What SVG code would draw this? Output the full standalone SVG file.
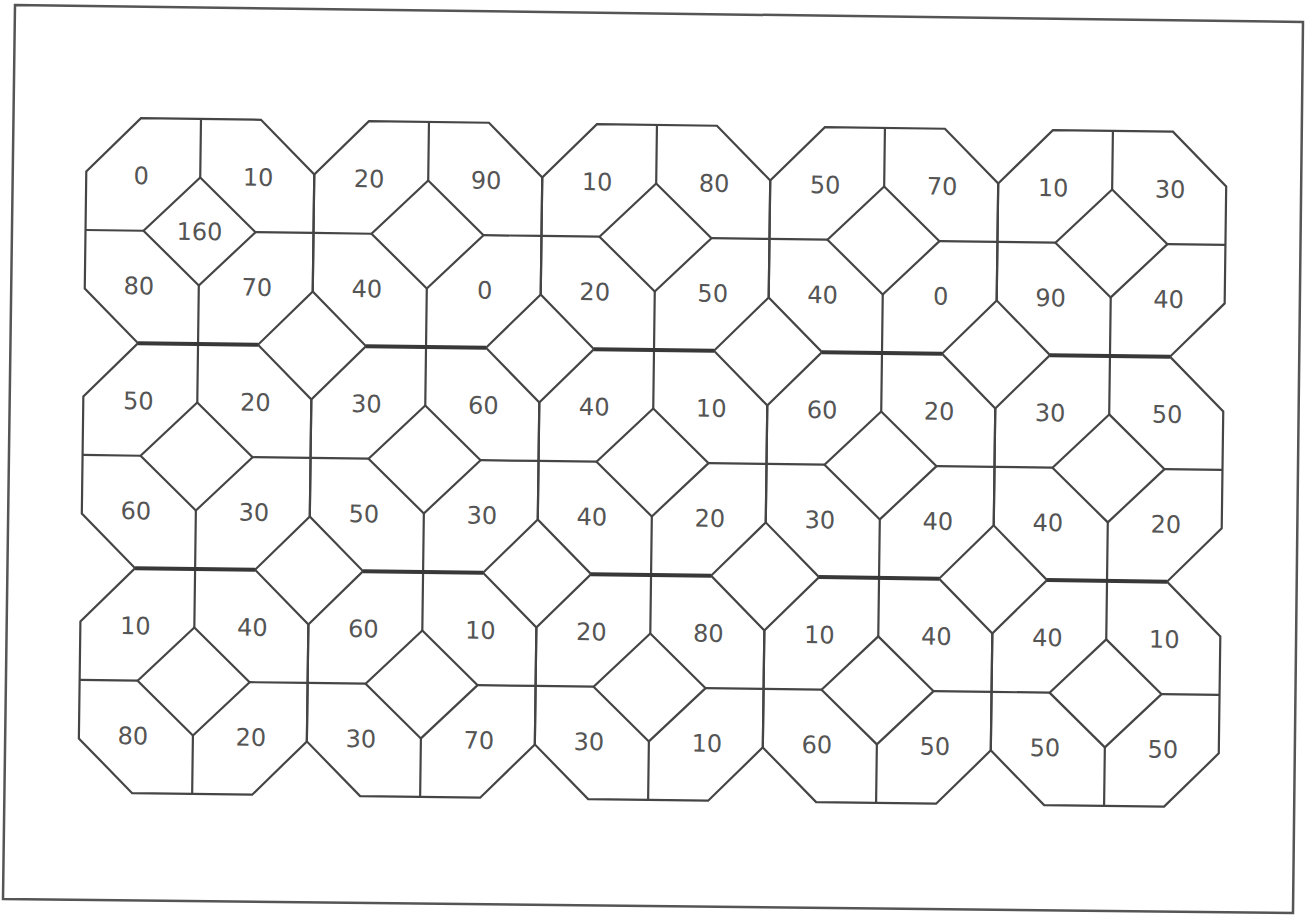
<svg xmlns="http://www.w3.org/2000/svg" xmlns:xlink="http://www.w3.org/1999/xlink" width="1305" height="916" viewBox="0 0 1305 916">
<style>
.ln{fill:none;stroke:#454545;stroke-width:2.2;stroke-linejoin:miter}
.bold{fill:none;stroke:#383838;stroke-width:4}
.frame{fill:none;stroke:#555;stroke-width:2.5}
text{font-family:"DejaVu Sans","Liberation Sans",sans-serif;font-size:24px;fill:#555;text-anchor:middle}
</style>
<defs>
<g id="oct">
<polygon class="ln" points="54,0 174,0 228,54 228,171 174,225 54,225 0,171 0,54"/>
<polygon class="ln" points="114,58.5 170,112.5 114,166.5 58,112.5"/>
<path class="ln" d="M114,0V58.5M114,166.5V225M0,112.5H58M170,112.5H228"/>
</g>
</defs>
<rect width="1305" height="916" fill="#fff"/>
<polygon class="frame" points="15,5 1303,22 1293,913 3,899"/>
<g transform="translate(87,117.5) rotate(0.75)">
<g id="r0c0" transform="translate(0,0)"><use xlink:href="#oct"/><text x="55" y="66">0</text><text x="172" y="66">10</text><text x="54" y="176">80</text><text x="172" y="176">70</text><text x="114" y="121">160</text></g>
<g id="r0c1" transform="translate(228,0)"><use xlink:href="#oct"/><text x="55" y="66">20</text><text x="172" y="66">90</text><text x="54" y="176">40</text><text x="172" y="176">0</text></g>
<g id="r0c2" transform="translate(456,0)"><use xlink:href="#oct"/><text x="55" y="66">10</text><text x="172" y="66">80</text><text x="54" y="176">20</text><text x="172" y="176">50</text></g>
<g id="r0c3" transform="translate(684,0)"><use xlink:href="#oct"/><text x="55" y="66">50</text><text x="172" y="66">70</text><text x="54" y="176">40</text><text x="172" y="176">0</text></g>
<g id="r0c4" transform="translate(912,0)"><use xlink:href="#oct"/><text x="55" y="66">10</text><text x="172" y="66">30</text><text x="54" y="176">90</text><text x="172" y="176">40</text></g>
<g id="r1c0" transform="translate(0,225)"><use xlink:href="#oct"/><text x="55" y="66">50</text><text x="172" y="66">20</text><text x="54" y="176">60</text><text x="172" y="176">30</text></g>
<g id="r1c1" transform="translate(228,225)"><use xlink:href="#oct"/><text x="55" y="66">30</text><text x="172" y="66">60</text><text x="54" y="176">50</text><text x="172" y="176">30</text></g>
<g id="r1c2" transform="translate(456,225)"><use xlink:href="#oct"/><text x="55" y="66">40</text><text x="172" y="66">10</text><text x="54" y="176">40</text><text x="172" y="176">20</text></g>
<g id="r1c3" transform="translate(684,225)"><use xlink:href="#oct"/><text x="55" y="66">60</text><text x="172" y="66">20</text><text x="54" y="176">30</text><text x="172" y="176">40</text></g>
<g id="r1c4" transform="translate(912,225)"><use xlink:href="#oct"/><text x="55" y="66">30</text><text x="172" y="66">50</text><text x="54" y="176">40</text><text x="172" y="176">20</text></g>
<g id="r2c0" transform="translate(0,450)"><use xlink:href="#oct"/><text x="55" y="66">10</text><text x="172" y="66">40</text><text x="54" y="176">80</text><text x="172" y="176">20</text></g>
<g id="r2c1" transform="translate(228,450)"><use xlink:href="#oct"/><text x="55" y="66">60</text><text x="172" y="66">10</text><text x="54" y="176">30</text><text x="172" y="176">70</text></g>
<g id="r2c2" transform="translate(456,450)"><use xlink:href="#oct"/><text x="55" y="66">20</text><text x="172" y="66">80</text><text x="54" y="176">30</text><text x="172" y="176">10</text></g>
<g id="r2c3" transform="translate(684,450)"><use xlink:href="#oct"/><text x="55" y="66">10</text><text x="172" y="66">40</text><text x="54" y="176">60</text><text x="172" y="176">50</text></g>
<g id="r2c4" transform="translate(912,450)"><use xlink:href="#oct"/><text x="55" y="66">40</text><text x="172" y="66">10</text><text x="54" y="176">50</text><text x="172" y="176">50</text></g>
<g id="row-boundaries">
<path class="bold" d="M54,225H174M282,225H402M510,225H630M738,225H858M966,225H1086M54,450H174M282,450H402M510,450H630M738,450H858M966,450H1086"/>
</g>
</g>
</svg>
